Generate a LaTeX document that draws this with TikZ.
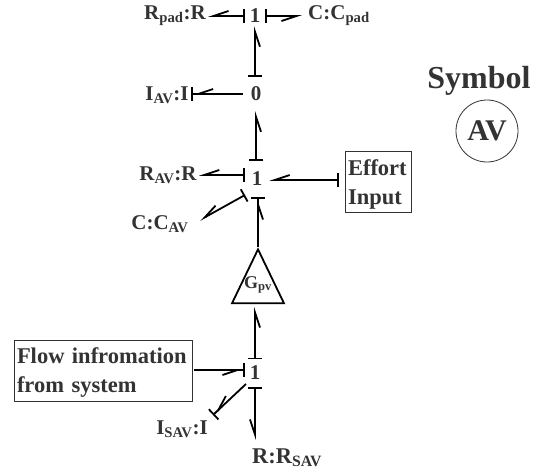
\documentclass[tikz,border=0pt]{standalone}
\usepackage{fontspec}
\setmainfont{Liberation Serif}
\usetikzlibrary{arrows.meta, shapes.geometric}
\definecolor{inkdark}{HTML}{333333}
\tikzset{
  bond/.style={draw=black, line width=1.8pt},
  startbar/.style={bond, {Bar[width=14pt]}-{Straight Barb[right, length=15pt, width=10pt]}},
  endbar/.style={bond, -{Straight Barb[right, length=15pt, width=10pt, sep=0pt]Bar[width=14pt]}},
  junction/.style={inner sep=0pt, text=inkdark, font=\fontsize{21}{23}\bfseries\selectfont},
  elem/.style={inner sep=0pt, text=inkdark, font=\fontsize{21}{23}\bfseries\selectfont},
  infobox/.style={draw=inkdark, line width=1pt, inner sep=0pt, text=inkdark, align=left,
    font=\fontsize{22.5}{29}\bfseries\selectfont}
}
\begin{document}
\begin{tikzpicture}[x=1pt, y=-1pt]
  \useasboundingbox (0,0) rectangle (539,472);
  % junctions
  \node[junction, minimum width=20pt, minimum height=20pt] (top) at (255,16) {1};
  \node[junction, minimum width=26pt, minimum height=34pt] (zero) at (256,94) {0};
  \node[junction, minimum width=24pt, minimum height=36pt] (mid) at (257,179) {1};
  \node[junction, minimum width=20pt, minimum height=27pt] (low) at (255,373) {1};
  % elements
  \node[elem, inner xsep=2pt] (rpad) at (175,16) {R\textsubscript{pad}:R};
  \node[elem, inner xsep=6pt] (cpad) at (339,16) {C:C\textsubscript{pad}};
  \node[elem, inner xsep=2pt] (iav) at (167,95) {I\textsubscript{AV}:I};
  \node[elem, inner xsep=2pt] (rav) at (168,175) {R\textsubscript{AV}:R};
  \node[elem] (cav) at (160,224) {C:C\textsubscript{AV}};
  \node[elem] (isav) at (182,429) {I\textsubscript{SAV}:I};
  \node[elem, font=\fontsize{22.5}{24}\bfseries\selectfont] (rsav) at (287,458) {R:R\textsubscript{SAV}};
  \coordinate (cavtip) at (200,220);
  \coordinate (midcorner) at (245,195);
  \coordinate (isavtip) at (213,415);
  \coordinate (lowcorner) at (246,384);
  \coordinate (rsavtip) at (255,440);
  \coordinate (gpvtip) at (255,307);
  \coordinate (effortend) at (339,180);
  \coordinate (flowstart) at (194,370);
  \node[isosceles triangle, isosceles triangle stretches, shape border rotate=90, draw=black,
    line width=1.8pt, minimum height=54pt, minimum width=52pt, inner sep=0pt] (gpv) at (258,287) {};
  \node[text=inkdark, font=\fontsize{18}{20}\bfseries\selectfont] (gpvlab) at (258,285) {G\textsubscript{pv}};
  \node[infobox, minimum width=66pt, minimum height=61pt, text width=60pt, inner xsep=3pt] (effort) at (378,182) {\rule{0pt}{20pt}Effort\\Input};
  \node[infobox, minimum width=178pt, minimum height=61pt, text width=172pt, inner xsep=3pt] (flow) at (103,371) {\rule{0pt}{18pt}Flow infromation\\from system};
  % symbol
  \node[text=inkdark, font=\fontsize{32}{34}\bfseries\selectfont] (symbol) at (479,81) {Symbol};
  \node[circle, draw=inkdark, line width=0.8pt, minimum size=62pt, inner sep=0pt, text=inkdark,
    font=\fontsize{30}{32}\bfseries\selectfont] (av) at (487,131) {AV};
  % bonds
  \draw[startbar] (top.west) -- (top.west -| rpad.east);
  \draw[startbar] (top.east) -- (top.east -| cpad.west);
  \draw[startbar] (zero.north -| top.south) -- (top.south);
  \draw[endbar] (zero.west) -- (zero.west -| iav.east);
  \draw[startbar] (mid.north -| zero.south) -- (zero.south);
  \draw[startbar] (mid.west |- rav.east) -- (rav.east);
  \draw[startbar] (midcorner) -- (cavtip);
  \draw[startbar] (effortend) -- (effortend -| mid.east);
  \draw[endbar] (gpv.apex) -- (mid.south -| gpv.apex);
  \draw[startbar] (low.north) -- (gpvtip);
  \draw[endbar] (flowstart) -- (flowstart -| low.west);
  \draw[endbar] (lowcorner) -- (isavtip);
  \draw[startbar] (low.south) -- (rsavtip);
\end{tikzpicture}
\end{document}
